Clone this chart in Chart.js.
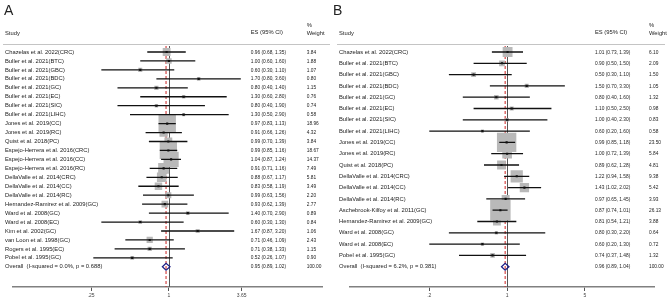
<!DOCTYPE html>
<html><head><meta charset="utf-8">
<script src="https://cdn.jsdelivr.net/npm/chart.js@4.4.1/dist/chart.umd.min.js"></script>
<style>
body{margin:0;background:#fff;width:669px;height:302px;position:relative;overflow:hidden;font-family:"Liberation Sans",Arial,sans-serif}
canvas{position:absolute;top:0}
#cA{left:0}
#cB{left:335px}
.lab{position:absolute;top:2px;font-size:14px;color:#222;line-height:normal;z-index:2}
.hl{position:absolute;top:44px;height:1px;background:#c4c4c4;z-index:2}
</style></head><body>
<canvas id="cA" width="335" height="302"></canvas>
<canvas id="cB" width="334" height="302"></canvas>
<div class="lab" style="left:4px">A</div>
<div class="lab" style="left:333px">B</div>
<div class="hl" style="left:3px;width:327px"></div>
<div class="hl" style="left:337px;width:328px"></div>
<script>
// ---------- Panel A data ----------
const studiesA = ["Chazelas et al. 2022(CRC)","Buller et al. 2021(BTC)","Buller et al. 2021(GBC)","Buller et al. 2021(BDC)","Buller et al. 2021(GC)","Buller et al. 2021(EC)","Buller et al. 2021(SIC)","Buller et al. 2021(LIHC)","Jones et al. 2019(CC)","Jones et al. 2019(RC)","Quist et al. 2018(PC)","Espejo-Herrera et al. 2016(CRC)","Espejo-Herrera et al. 2016(CC)","Espejo-Herrera et al. 2016(RC)","DellaValle et al. 2014(CRC)","DellaValle et al. 2014(CC)","DellaValle et al. 2014(RC)","Hernandez-Ramirez et al. 2009(GC)","Ward et al. 2008(GC)","Ward et al. 2008(EC)","Kim et al. 2002(GC)","van Loon et al. 1998(GC)","Rogers et al. 1995(EC)","Pobel et al. 1995(GC)"];
const esA     = [0.96,1.00,0.60,1.70,0.80,1.30,0.80,1.30,0.97,0.91,0.99,0.99,1.04,0.91,0.88,0.83,0.99,0.93,1.40,0.60,1.67,0.71,0.71,0.52];
const lowA    = [0.68,0.60,0.30,0.80,0.40,0.60,0.40,0.50,0.83,0.66,0.70,0.85,0.87,0.71,0.67,0.58,0.63,0.62,0.70,0.30,0.87,0.46,0.38,0.26];
const highA   = [1.35,1.60,1.10,3.60,1.40,2.80,1.90,2.90,1.13,1.26,1.39,1.16,1.24,1.16,1.17,1.19,1.56,1.39,2.90,1.30,3.20,1.09,1.33,1.07];
const weightA = [3.84,1.88,1.07,0.80,1.15,0.76,0.74,0.58,18.96,4.32,3.84,18.67,14.37,7.49,5.81,3.49,2.20,2.77,0.89,0.84,1.06,2.43,1.15,0.90];
const overallA = [0.95,0.89,1.02,100.00]; // ES, low, high, weight
const overallLabelA = "Overall  (I-squared = 0.0%, p = 0.688)";
const tickValuesA = [0.25,1,3.65];
const tickLabelsA = [".25","1","3.65"];

// ---------- Panel B data ----------
const studiesB = ["Chazelas et al. 2022(CRC)","Buller et al. 2021(BTC)","Buller et al. 2021(GBC)","Buller et al. 2021(BDC)","Buller et al. 2021(GC)","Buller et al. 2021(EC)","Buller et al. 2021(SIC)","Buller et al. 2021(LIHC)","Jones et al. 2019(CC)","Jones et al. 2019(RC)","Quist et al. 2018(PC)","DellaValle et al. 2014(CRC)","DellaValle et al. 2014(CC)","DellaValle et al. 2014(RC)","Aschebrook-Kilfoy et al. 2011(GC)","Hernandez-Ramirez et al. 2009(GC)","Ward et al. 2008(GC)","Ward et al. 2008(EC)","Pobel et al. 1995(GC)"];
const esB     = [1.01,0.90,0.50,1.50,0.80,1.10,1.00,0.60,0.99,1.00,0.89,1.22,1.43,0.97,0.87,0.81,0.80,0.60,0.74];
const lowB    = [0.73,0.50,0.30,0.70,0.40,0.50,0.40,0.20,0.85,0.72,0.62,0.94,1.02,0.65,0.74,0.54,0.30,0.20,0.37];
const highB   = [1.39,1.50,1.10,3.30,1.60,2.50,2.30,1.60,1.18,1.39,1.28,1.58,2.02,1.45,1.01,1.21,2.20,1.30,1.48];
const weightB = [6.10,2.09,1.50,1.05,1.32,0.98,0.83,0.58,23.50,5.84,4.81,9.38,5.42,3.93,26.13,3.88,0.64,0.72,1.32];
const overallB = [0.96,0.89,1.04,100.00];
const overallLabelB = "Overall  (I-squared = 6.2%, p = 0.381)";
const tickValuesB = [0.2,1,5];
const tickLabelsB = [".2","1","5"];

const headerStudy = "Study", headerES = "ES (95% CI)", headerPct = "%", headerW = "Weight";

const FONT = '"Liberation Sans", Arial, sans-serif';
function esText(e,l,h){return e.toFixed(2)+" ("+l.toFixed(2)+", "+h.toFixed(2)+")";}

function forest(id, D, L) {
  const n = D.studies.length;
  const top = 45, bottom = 287, padL = 3, padR = 3;
  const areaR = L.width - padR;
  const xmin = Math.exp((padL - L.onePx) / L.pxPerLn);
  const xmax = Math.exp((areaR - L.onePx) / L.pxPerLn);
  const yMin = -(L.firstRowPx - top) / L.rowStep;
  const yMax = yMin + (bottom - top) / L.rowStep;
  const side = w => 4 * Math.sqrt(w);

  const ciData = [];
  D.low.forEach((l, i) => { ciData.push({x: l, y: i}, {x: D.high[i], y: i}, {x: null, y: null}); });

  const plugin = {
    id: 'forest_' + id,
    beforeDatasetsDraw(chart) {
      const {ctx, chartArea: a, scales: {x}} = chart;
      ctx.save();
      const x1 = Math.round(x.getPixelForValue(1)) + 0.5;
      ctx.strokeStyle = '#555'; ctx.lineWidth = 1;
      ctx.beginPath(); ctx.moveTo(x1, a.top + 1); ctx.lineTo(x1, a.bottom); ctx.stroke();
      const xo = x.getPixelForValue(D.overall[0]);
      ctx.strokeStyle = '#cc2222'; ctx.setLineDash([3, 2]);
      ctx.beginPath(); ctx.moveTo(xo, a.top + 1); ctx.lineTo(xo, a.bottom); ctx.stroke();
      ctx.restore();
    },
    afterDraw(chart) {
      const {ctx, scales: {x, y}} = chart;
      ctx.save();
      const yo = y.getPixelForValue(n);
      const xl = x.getPixelForValue(D.overall[1]), xe = x.getPixelForValue(D.overall[0]), xh = x.getPixelForValue(D.overall[2]);
      ctx.strokeStyle = '#1c1c84'; ctx.lineWidth = 1.2;
      ctx.beginPath(); ctx.moveTo(xl, yo); ctx.lineTo(xe, yo - 3.5); ctx.lineTo(xh, yo); ctx.lineTo(xe, yo + 3.5); ctx.closePath(); ctx.stroke();
      ctx.fillStyle = '#222'; ctx.textBaseline = 'middle'; ctx.textAlign = 'left';
      ctx.font = '5.8px ' + FONT;
      ctx.fillText(headerStudy, L.studyX, 33);
      ctx.fillText(headerES, L.esX, 32);
      ctx.fillText(headerPct, L.wX, 25);
      ctx.fillText(headerW, L.wX, 33);
      const num = (t, px, py) => { ctx.save(); ctx.translate(px, py); ctx.scale(0.83, 1); ctx.fillText(t, 0, 0); ctx.restore(); };
      for (let i = 0; i < n; i++) {
        const py = y.getPixelForValue(i);
        ctx.fillText(D.studies[i], L.studyX, py);
        num(esText(D.es[i], D.low[i], D.high[i]), L.esX, py);
        num(D.weight[i].toFixed(2), L.wX, py);
      }
      ctx.fillText(D.overallLabel, L.studyX, yo);
      num(esText(D.overall[0], D.overall[1], D.overall[2]), L.esX, yo);
      num(D.overall[3].toFixed(2), L.wX, yo);
      ctx.restore();
    }
  };

  return new Chart(document.getElementById(id), {
    type: 'scatter',
    data: {
      datasets: [
        {
          order: 3,
          data: D.es.map((v, i) => ({x: v, y: i})),
          pointStyle: 'rect',
          pointRadius: D.weight.map(w => side(w) / Math.SQRT2),
          backgroundColor: '#b9b9b9', borderWidth: 0, pointBorderWidth: 0
        },
        {
          order: 2,
          data: ciData, showLine: true, spanGaps: false,
          borderColor: '#111', borderWidth: 1.3, pointRadius: 0, borderCapStyle: 'butt'
        },
        {
          order: 1,
          data: D.es.map((v, i) => ({x: v, y: i})),
          pointStyle: 'rect', pointRadius: 1.5,
          backgroundColor: '#111', borderWidth: 0, pointBorderWidth: 0
        }
      ]
    },
    options: {
      responsive: false, animation: false, devicePixelRatio: 1,
      layout: {padding: {left: padL, right: padR, top: top, bottom: 0}},
      plugins: {legend: {display: false}, tooltip: {enabled: false}},
      scales: {
        x: {
          type: 'logarithmic', min: xmin, max: xmax, bounds: 'data', offset: false,
          afterBuildTicks: s => { s.ticks = D.tickValues.map(v => ({value: v})); },
          afterFit: s => { s.height = 15; },
          ticks: {
            autoSkip: false, maxRotation: 0, padding: 1.5, color: '#444',
            font: {size: 5, family: FONT},
            callback: v => { const k = D.tickValues.indexOf(v); return k >= 0 ? D.tickLabels[k] : ''; }
          },
          grid: {display: true, offset: false, drawOnChartArea: false, drawTicks: true, tickLength: 4, color: '#555', lineWidth: 1},
          border: {display: true, color: '#808080', width: 1.6}
        },
        y: {type: 'linear', display: false, reverse: true, min: yMin, max: yMax, offset: false, bounds: 'data', grace: 0}
      }
    },
    plugins: [plugin]
  });
}

forest('cA',
  {studies: studiesA, es: esA, low: lowA, high: highA, weight: weightA, overall: overallA, overallLabel: overallLabelA, tickValues: tickValuesA, tickLabels: tickLabelsA},
  {width: 335, onePx: 169, pxPerLn: 59.5, firstRowPx: 52, rowStep: 8.95, studyX: 5, esX: 250.7, wX: 306.7});
forest('cB',
  {studies: studiesB, es: esB, low: lowB, high: highB, weight: weightB, overall: overallB, overallLabel: overallLabelB, tickValues: tickValuesB, tickLabels: tickLabelsB},
  {width: 334, onePx: 172.5, pxPerLn: 52, firstRowPx: 52, rowStep: 11.3, studyX: 4, esX: 260, wX: 314});
</script>
</body></html>
